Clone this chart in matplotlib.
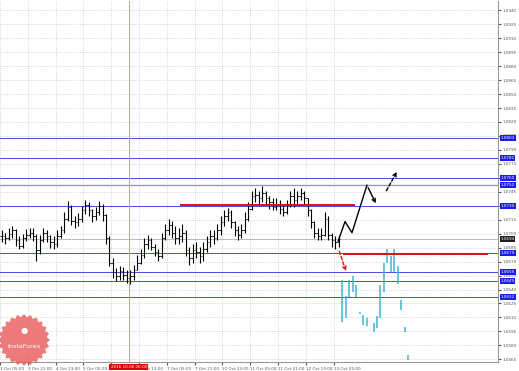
import numpy as np
import matplotlib
matplotlib.use("Agg")
import matplotlib.pyplot as plt
import matplotlib.transforms as mtransforms
from matplotlib.patches import Polygon

# H2-style bars, price data
close = [1.0697, 1.0695, 1.0700, 1.0704, 1.0693, 1.0687, 1.0695, 1.0699, 1.0701, 1.0697,
         1.0682, 1.0693, 1.0701, 1.0697, 1.0691, 1.0689, 1.0697, 1.0704, 1.0716, 1.0729,
         1.0714, 1.0712, 1.0716, 1.0725, 1.0731, 1.0725, 1.0719, 1.0723, 1.0730, 1.0720,
         1.0695, 1.0669, 1.0659, 1.0654, 1.0660, 1.0656, 1.0652, 1.0654, 1.0661, 1.0669,
         1.0677, 1.0689, 1.0693, 1.0686, 1.0680, 1.0676, 1.0695, 1.0704, 1.0709, 1.0701,
         1.0695, 1.0697, 1.0701, 1.0682, 1.0674, 1.0682, 1.0680, 1.0676, 1.0684, 1.0691,
         1.0697, 1.0695, 1.0704, 1.0712, 1.0719, 1.0723, 1.0712, 1.0704, 1.0699, 1.0704,
         1.0716, 1.0727, 1.0740, 1.0742, 1.0738, 1.0744, 1.0738, 1.0734, 1.0729, 1.0731,
         1.0727, 1.0723, 1.0731, 1.0740, 1.0736, 1.0740, 1.0744, 1.0738, 1.0725, 1.0712,
         1.0701, 1.0697, 1.0699, 1.0716, 1.0699, 1.0693, 1.0691, 1.0694]
high = [1.0704, 1.0701, 1.0706, 1.0708, 1.0705, 1.0697, 1.0700, 1.0705, 1.0706, 1.0706,
        1.0700, 1.0699, 1.0706, 1.0704, 1.0699, 1.0697, 1.0704, 1.0708, 1.0723, 1.0735,
        1.0731, 1.0719, 1.0722, 1.0730, 1.0736, 1.0734, 1.0727, 1.0729, 1.0735, 1.0732,
        1.0721, 1.0697, 1.0674, 1.0663, 1.0665, 1.0664, 1.0661, 1.0661, 1.0666, 1.0677,
        1.0684, 1.0695, 1.0699, 1.0695, 1.0689, 1.0684, 1.0701, 1.0710, 1.0716, 1.0714,
        1.0708, 1.0706, 1.0710, 1.0704, 1.0686, 1.0689, 1.0691, 1.0686, 1.0691, 1.0697,
        1.0704, 1.0704, 1.0710, 1.0719, 1.0725, 1.0728, 1.0725, 1.0714, 1.0708, 1.0710,
        1.0723, 1.0734, 1.0746, 1.0749, 1.0746, 1.0751, 1.0746, 1.0740, 1.0738, 1.0738,
        1.0736, 1.0731, 1.0736, 1.0746, 1.0749, 1.0746, 1.0749, 1.0746, 1.0738, 1.0727,
        1.0714, 1.0706, 1.0706, 1.0723, 1.0719, 1.0701, 1.0697, 1.0698]
low = [1.0691, 1.0689, 1.0693, 1.0695, 1.0687, 1.0683, 1.0685, 1.0692, 1.0695, 1.0692,
       1.0671, 1.0678, 1.0691, 1.0691, 1.0685, 1.0683, 1.0686, 1.0695, 1.0701, 1.0714,
       1.0709, 1.0706, 1.0708, 1.0712, 1.0721, 1.0719, 1.0712, 1.0715, 1.0720, 1.0714,
       1.0689, 1.0665, 1.0652, 1.0649, 1.0650, 1.0650, 1.0647, 1.0646, 1.0650, 1.0661,
       1.0667, 1.0674, 1.0684, 1.0682, 1.0676, 1.0671, 1.0674, 1.0693, 1.0699, 1.0695,
       1.0689, 1.0689, 1.0691, 1.0676, 1.0666, 1.0669, 1.0674, 1.0669, 1.0671, 1.0680,
       1.0686, 1.0689, 1.0693, 1.0699, 1.0708, 1.0714, 1.0706, 1.0697, 1.0693, 1.0695,
       1.0701, 1.0714, 1.0725, 1.0734, 1.0731, 1.0734, 1.0731, 1.0727, 1.0725, 1.0725,
       1.0721, 1.0719, 1.0721, 1.0729, 1.0729, 1.0731, 1.0736, 1.0731, 1.0719, 1.0706,
       1.0695, 1.0693, 1.0693, 1.0697, 1.0693, 1.0686, 1.0684, 1.0686]

# forecast (cyan) bars
fc_bar = [98, 99, 100, 101, 102, 103, 104, 105, 107, 108, 109, 110, 111, 112, 113, 114, 115, 116, 117]
fc_high = [1.0650, 1.0633, 1.0650, 1.0654, 1.0645, 1.0616, 1.0613, 1.0609, 1.0604, 1.0611,
           1.0645, 1.0669, 1.0684, 1.0676, 1.0684, 1.0665, 1.0629, 1.0600, 1.0570]
fc_low = [1.0605, 1.0609, 1.0632, 1.0637, 1.0632, 1.0614, 1.0602, 1.0601, 1.0594, 1.0599,
          1.0609, 1.0637, 1.0669, 1.0659, 1.0659, 1.0646, 1.0618, 1.0594, 1.0564]

price_ticks = [1.0940, 1.0925, 1.0910, 1.0895, 1.0880, 1.0865, 1.0850, 1.0835, 1.0820,
               1.0805, 1.0790, 1.0775, 1.0760, 1.0745, 1.0730, 1.0715, 1.0700, 1.0685,
               1.0670, 1.0655, 1.0640, 1.0625, 1.0610, 1.0595, 1.0580, 1.0565]
time_labels = ["3 Oct 05:00", "3 Oct 21:00", "4 Oct 13:00", "5 Oct 05:00", "5 Oct 21:00",
               "6 Oct 13:00", "7 Oct 05:00", "7 Oct 21:00", "10 Oct 13:00", "11 Oct 05:00",
               "11 Oct 21:00", "12 Oct 13:00", "13 Oct 05:00"]
cursor_bar = 36.6
cursor_label = "2016.10.06 06:00"

blue_levels = [1.0803, 1.0781, 1.0760, 1.0730, 1.0679, 1.0659, 1.0649, 1.0632]
gray_level = 1.0752
current_price = 1.0694

red_levels = [1.0731, 1.0678]
red_start = [51.3, 98.2]
red_end = [101.7, 139.9]

up_path_bar = [96.8, 98.8, 100.8, 105.1, 108.0]
up_path_price = [1.0692, 1.0713, 1.0701, 1.0752, 1.0730]
up_dash_bar = [110.3, 114.1]
up_dash_price = [1.07435, 1.0769]
down_dash_bar = [96.9, 99.3]
down_dash_price = [1.0684, 1.0657]

W, H = 519, 371
fig = plt.figure(figsize=(W / 100, H / 100), dpi=100)
fig.patch.set_facecolor("white")
ax = fig.add_axes([0, 9 / H, 498 / W, 1 - 10 / H])
ax.set_xlim(-0.489, 142.82)
ax.set_ylim(1.05621, 1.0950)

ax.set_yticks(price_ticks)
ax.set_yticklabels([f"{p:.4f}" for p in price_ticks])
ax.yaxis.tick_right()
ax.tick_params(axis="y", labelsize=3.0, length=2, pad=1.5, colors="#555555")
xt = [8 * k - 0.5 for k in range(len(time_labels))]
ax.set_xticks(xt)
ax.set_xticklabels(time_labels)
ax.tick_params(axis="x", labelsize=3.0, length=2, pad=1.5, colors="#555555")
for t in ax.get_xticklabels():
    t.set_ha("left")
for s in ["left", "top"]:
    ax.spines[s].set_visible(False)
for s in ["right", "bottom"]:
    ax.spines[s].set_color("#999999")
    ax.spines[s].set_linewidth(0.8)
ax.grid(True, ls=":", color="#c8c8c8", lw=0.6)
ax.set_axisbelow(True)

# levels
for lv in blue_levels:
    ax.axhline(lv, color="#4a4ae0", lw=0.7, zorder=1)
ax.axhline(gray_level, color="#9a9ab0", lw=1.0, zorder=1)
ax.axhline(current_price, color="#bbbbbb", lw=0.7, zorder=1)
ax.axvline(cursor_bar, color="#e89090", lw=0.7, zorder=1)

# black bars
idx = np.arange(len(close))
opens = [close[0]] + close[:-1]
ax.vlines(idx, low, high, color="black", lw=0.8, zorder=3)
ax.hlines(opens, idx - 0.45, idx, color="black", lw=0.6, zorder=3)
ax.hlines(close, idx, idx + 0.45, color="black", lw=0.6, zorder=3)

# forecast bars
ax.vlines(fc_bar, fc_low, fc_high, color="#47b3d8", lw=1.1, zorder=3)

# red levels
for lv, a, b in zip(red_levels, red_start, red_end):
    ax.hlines(lv, a, b, color="#e01010", lw=1.4, zorder=4)

# arrows
ax.plot(up_path_bar[:-1], up_path_price[:-1], color="black", lw=1.0, zorder=5)
ax.annotate("", xy=(up_path_bar[-1], up_path_price[-1]),
            xytext=(up_path_bar[-2], up_path_price[-2]),
            arrowprops=dict(arrowstyle="->", color="black", lw=1.0, mutation_scale=6), zorder=5)
ax.annotate("", xy=(up_dash_bar[1], up_dash_price[1]), xytext=(up_dash_bar[0], up_dash_price[0]),
            arrowprops=dict(arrowstyle="->", color="black", lw=1.0, ls=(0, (2.5, 1.5)),
                            mutation_scale=6), zorder=5)
ax.annotate("", xy=(down_dash_bar[1], down_dash_price[1]), xytext=(down_dash_bar[0], down_dash_price[0]),
            arrowprops=dict(arrowstyle="->", color="#e01010", lw=1.0, ls=(0, (2.5, 1.5)),
                            mutation_scale=6), zorder=5)

# price boxes on the right
trans = mtransforms.blended_transform_factory(ax.transAxes, ax.transData)
for lv in blue_levels + [gray_level]:
    ax.text(1.005, lv, f"{lv:.4f}", transform=trans, fontsize=3.0, color="white",
            ha="left", va="center", clip_on=False, zorder=6,
            bbox=dict(boxstyle="square,pad=0.2", fc="#1c1cf0", ec="none"))
ax.text(1.005, current_price, f"{current_price:.4f}", transform=trans, fontsize=3.0,
        color="white", ha="left", va="center", clip_on=False, zorder=6,
        bbox=dict(boxstyle="square,pad=0.2", fc="#202020", ec="none"))

# cursor date box
transx = mtransforms.blended_transform_factory(ax.transData, ax.transAxes)
ax.text(cursor_bar, -0.014, cursor_label, transform=transx, fontsize=3.0, color="white",
        ha="center", va="center", clip_on=False, zorder=6,
        bbox=dict(boxstyle="square,pad=0.3", fc="#e00000", ec="none"))

# InstaForex badge
cx, cy, r = 24 / W, 1 - 340 / H, 26
ang = np.linspace(0, 2 * np.pi, 49)[:-1]
rad = np.where(np.arange(48) % 2 == 0, r, r * 0.88)
pts = np.column_stack([cx + rad * np.cos(ang) / W, cy + rad * np.sin(ang) / H])
fig.patches.append(Polygon(pts, closed=True, transform=fig.transFigure,
                           fc="#e85a58", ec="none", alpha=0.8, zorder=10))
fig.text(cx, cy + 10 / H, "●", fontsize=6, color="white", ha="center", va="center", zorder=11)
fig.text(cx, cy - 7 / H, "InstaForex", fontsize=4.6, color="white", ha="center", va="center", zorder=11)

fig.savefig("out.png", dpi=100)
